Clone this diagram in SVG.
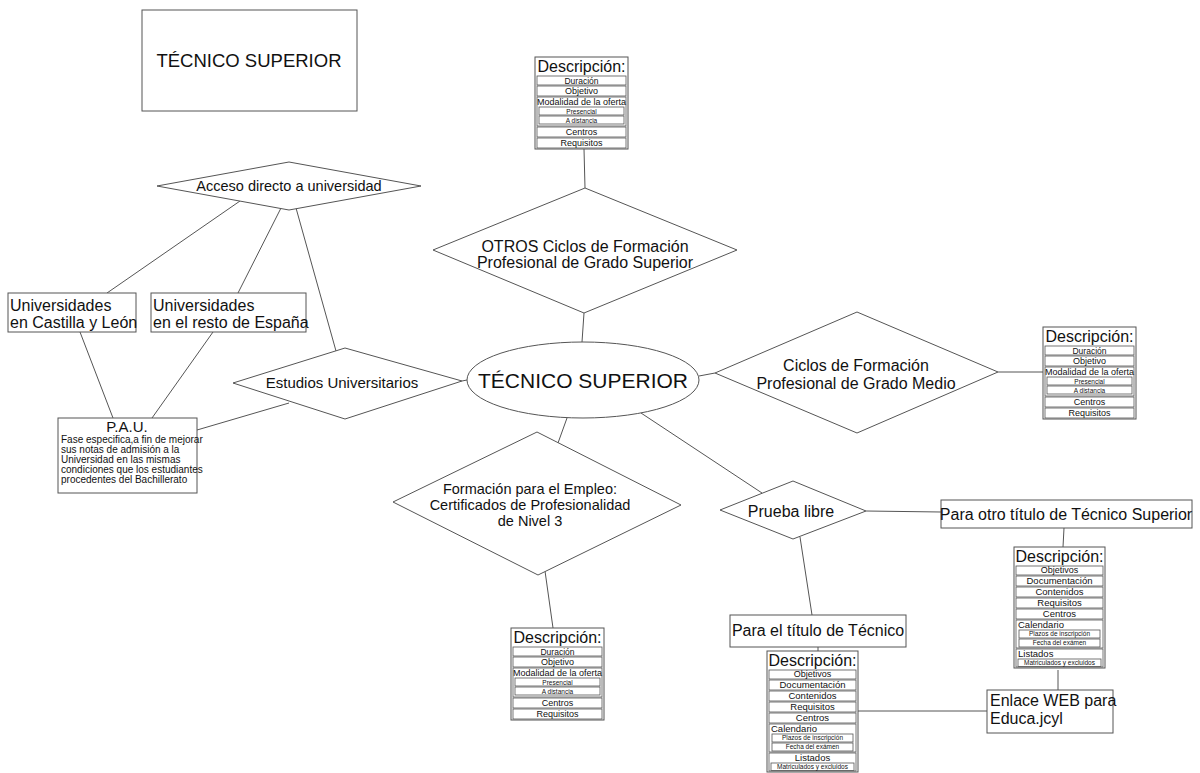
<svg xmlns="http://www.w3.org/2000/svg" xmlns:xlink="http://www.w3.org/1999/xlink" width="1200" height="773" viewBox="0 0 1200 773">
<style>
text{font-family:"Liberation Sans",Arial,sans-serif;fill:#111}
.s{fill:#fff;stroke:#555;stroke-width:1}
.r{fill:none;stroke:#555;stroke-width:0.8}
.c{stroke:#555;stroke-width:1;fill:none}
.m{text-anchor:middle}
</style>
<defs>
<g id="descA">
<rect class="s" x="0" y="0" width="93" height="92"/>
<text class="m" x="46.5" y="15" font-size="16">Descripción:</text>
<rect class="r" x="2" y="19" width="89" height="9"/>
<text class="m" x="46.5" y="26.5" font-size="8.5">Duración</text>
<rect class="r" x="2" y="29" width="89" height="10"/>
<text class="m" x="46.5" y="37.3" font-size="9">Objetivo</text>
<rect class="r" x="2" y="40" width="89" height="29"/>
<text class="m" x="46.5" y="48" font-size="9">Modalidad de la oferta</text>
<rect class="r" x="4" y="50" width="85" height="8"/>
<text class="m" x="46.5" y="56.5" font-size="6.5">Presencial</text>
<rect class="r" x="4" y="59" width="85" height="8"/>
<text class="m" x="46.5" y="65.5" font-size="6.5">A distancia</text>
<rect class="r" x="2" y="70" width="89" height="10"/>
<text class="m" x="46.5" y="78.3" font-size="9">Centros</text>
<rect class="r" x="2" y="81" width="89" height="10"/>
<text class="m" x="46.5" y="89.3" font-size="9">Requisitos</text>
</g>
<g id="descB">
<rect class="s" x="0" y="0" width="91" height="121"/>
<text class="m" x="45.5" y="15" font-size="16">Descripción:</text>
<rect class="r" x="2" y="19" width="87" height="9"/>
<text class="m" x="45.5" y="26.3" font-size="9">Objetivos</text>
<rect class="r" x="2" y="29" width="87" height="10"/>
<text class="m" x="45.5" y="37.3" font-size="9.5">Documentación</text>
<rect class="r" x="2" y="40" width="87" height="10"/>
<text class="m" x="45.5" y="48.3" font-size="9.5">Contenidos</text>
<rect class="r" x="2" y="51" width="87" height="10"/>
<text class="m" x="45.5" y="59.3" font-size="9.5">Requisitos</text>
<rect class="r" x="2" y="62" width="87" height="10"/>
<text class="m" x="45.5" y="70.3" font-size="9.5">Centros</text>
<rect class="r" x="2" y="73" width="87" height="28"/>
<text x="4" y="81" font-size="9.5">Calendario</text>
<rect class="r" x="5" y="83" width="81" height="8"/>
<text class="m" x="45.5" y="89.3" font-size="6.5">Plazos de inscripción</text>
<rect class="r" x="5" y="92" width="81" height="8"/>
<text class="m" x="45.5" y="98.3" font-size="6.5">Fecha del exámen</text>
<rect class="r" x="2" y="102" width="87" height="18"/>
<rect class="r" x="4" y="112" width="83" height="7.5"/>
<text class="m" x="45.5" y="118.3" font-size="6.5">Matriculados y excluidos</text>
</g>
</defs>
<rect x="0" y="0" width="1200" height="773" fill="#fff"/>

<g id="connectors" class="c">
<line x1="584" y1="149" x2="585" y2="188"/>
<line x1="584" y1="313" x2="582" y2="342"/>
<line x1="699" y1="376" x2="715" y2="373"/>
<line x1="998" y1="372" x2="1043" y2="372"/>
<line x1="567" y1="418" x2="558" y2="443"/>
<line x1="545" y1="571" x2="553" y2="628"/>
<line x1="641" y1="413" x2="762" y2="493"/>
<line x1="866" y1="511" x2="941" y2="512"/>
<line x1="800" y1="537" x2="812" y2="615"/>
<line x1="1064" y1="528" x2="1063" y2="547"/>
<line x1="1058" y1="670" x2="1058" y2="690"/>
<line x1="987" y1="711" x2="858" y2="711"/>
<line x1="818" y1="647" x2="818" y2="651"/>
<line x1="462" y1="381" x2="467" y2="380"/>
<line x1="240" y1="201" x2="107" y2="293"/>
<line x1="281" y1="208" x2="238" y2="293"/>
<line x1="296" y1="208" x2="336" y2="351"/>
<line x1="80" y1="332" x2="113" y2="418"/>
<line x1="213" y1="332" x2="152" y2="418"/>
<line x1="289" y1="403" x2="197" y2="430"/>
</g>

<g id="title">
<rect class="s" x="142" y="10" width="215" height="101"/>
<text class="m" x="249" y="67" font-size="18.5">TÉCNICO SUPERIOR</text>
</g>

<g id="acceso">
<polygon class="s" points="157,186 289,162 421,186 289,210"/>
<text class="m" x="289" y="191" font-size="14.5">Acceso directo a universidad</text>
</g>

<g id="univ-cyl">
<rect class="s" x="8" y="293" width="128" height="39"/>
<text x="10" y="311" font-size="16">Universidades</text>
<text x="10" y="328" font-size="16">en Castilla y León</text>
</g>

<g id="univ-resto">
<rect class="s" x="151" y="293" width="155" height="39"/>
<text x="153" y="311" font-size="16">Universidades</text>
<text x="153" y="328" font-size="16">en el resto de España</text>
</g>

<g id="estudios">
<polygon class="s" points="233,383 345,348 462,381 345,419"/>
<text class="m" x="342" y="388" font-size="15">Estudios Universitarios</text>
</g>

<g id="pau">
<rect class="s" x="58" y="418" width="139" height="75"/>
<text class="m" x="127" y="432" font-size="15">P.A.U.</text>
<text x="61" y="443" font-size="10">Fase especifica,a fin de mejorar</text>
<text x="61" y="453" font-size="10">sus notas de admisión a la</text>
<text x="61" y="463" font-size="10">Universidad en las mismas</text>
<text x="61" y="473" font-size="10">condiciones que los estudiantes</text>
<text x="61" y="483" font-size="10">procedentes del Bachillerato</text>
</g>

<g id="tecnico-superior">
<ellipse class="s" cx="583" cy="380" rx="116" ry="38"/>
<text class="m" x="583" y="388" font-size="21">TÉCNICO SUPERIOR</text>
</g>

<g id="otros">
<polygon class="s" points="433,250 585,188 737,250 584,313"/>
<text class="m" x="585" y="252" font-size="16">OTROS Ciclos de Formación</text>
<text class="m" x="585" y="268" font-size="16">Profesional de Grado Superior</text>
</g>

<g id="desc-otros"><use xlink:href="#descA" x="535" y="57"/></g>

<g id="grado-medio">
<polygon class="s" points="715,373 857,312 998,372 857,433"/>
<text class="m" x="856" y="371" font-size="16">Ciclos de Formación</text>
<text class="m" x="856" y="389" font-size="16">Profesional de Grado Medio</text>
</g>

<g id="desc-medio"><use xlink:href="#descA" x="1043" y="327"/></g>

<g id="empleo">
<polygon class="s" points="393,502 537,432 681,505 538,575"/>
<text class="m" x="530" y="494" font-size="14.5">Formación para el Empleo:</text>
<text class="m" x="530" y="510" font-size="14.5">Certificados de Profesionalidad</text>
<text class="m" x="530" y="526" font-size="14.5">de Nivel 3</text>
</g>

<g id="desc-empleo"><use xlink:href="#descA" x="511" y="628"/></g>

<g id="prueba-libre">
<polygon class="s" points="720,510 793,481 866,511 793,539"/>
<text class="m" x="791" y="517" font-size="16">Prueba libre</text>
</g>

<g id="otro-titulo">
<rect class="s" x="941" y="500" width="251" height="28"/>
<text class="m" x="1066" y="520" font-size="16">Para otro título de Técnico Superior</text>
</g>

<g id="desc-otro-titulo">
<use xlink:href="#descB" x="1014" y="547"/>
<text x="1018" y="657" font-size="9.5">Listados</text>
</g>

<g id="titulo-tecnico">
<rect class="s" x="730" y="615" width="176" height="32"/>
<text class="m" x="818" y="636" font-size="16">Para el título de Técnico</text>
</g>

<g id="desc-titulo-tecnico">
<use xlink:href="#descB" x="767" y="651"/>
<text class="m" x="812.5" y="761" font-size="9.5">Listados</text>
</g>

<g id="enlace">
<rect class="s" x="987" y="690" width="126" height="43"/>
<text x="990" y="706" font-size="16">Enlace WEB para</text>
<text x="990" y="724" font-size="16">Educa.jcyl</text>
</g>
</svg>
